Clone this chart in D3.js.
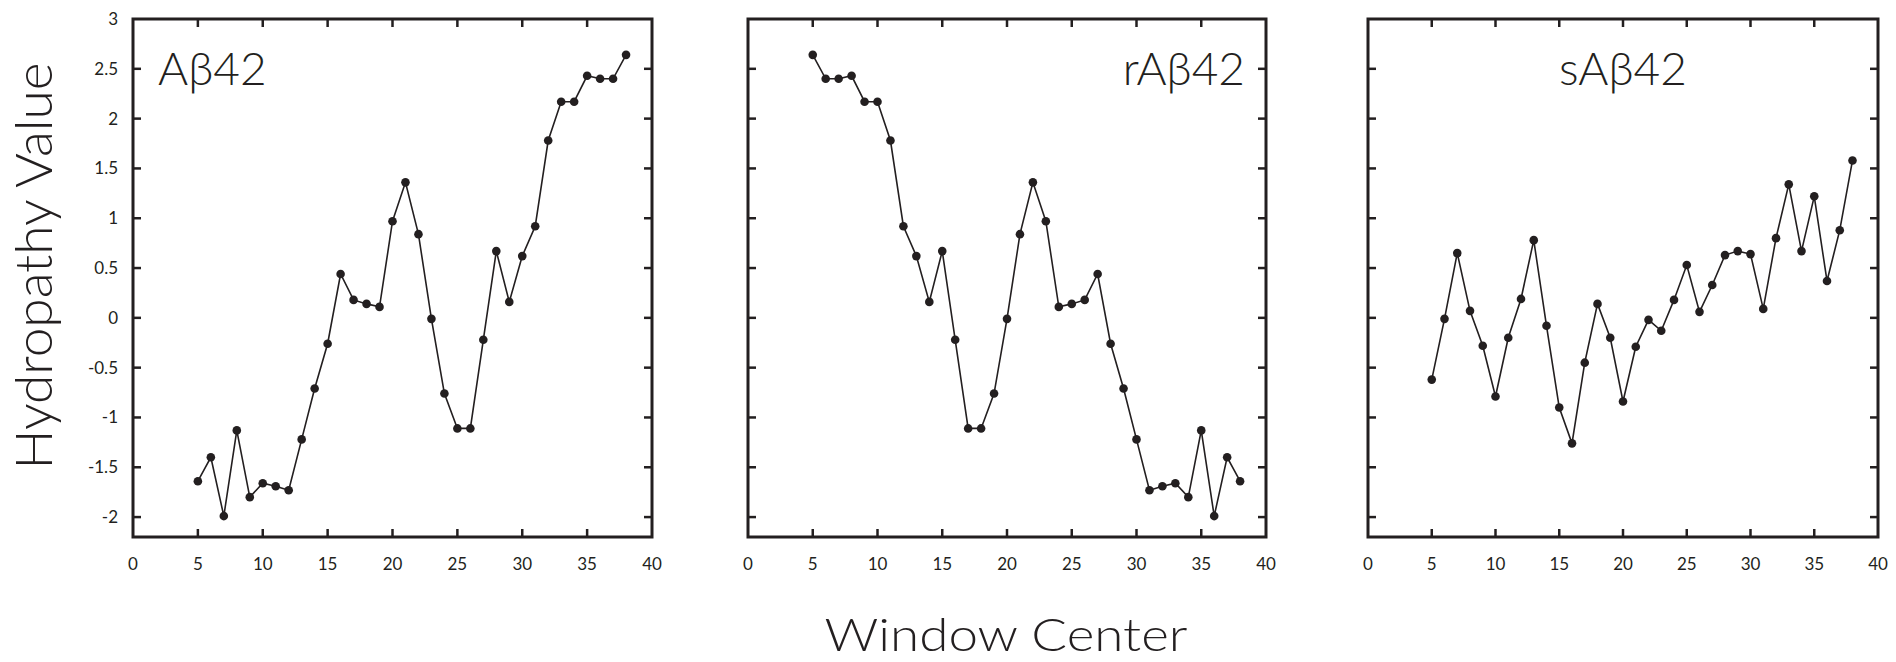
<!DOCTYPE html>
<html>
<head>
<meta charset="utf-8">
<script src="https://cdn.jsdelivr.net/npm/d3@7"></script>
<style>
  html, body { margin: 0; padding: 0; background: #ffffff; }
  svg { display: block; }
  text { font-family: "Lato", "Open Sans", sans-serif; fill: #231f20; }
  .big { font-weight: 300; }
  .tick { font-weight: 400; }
</style>
</head>
<body>
<svg id="chart" width="1896" height="662"></svg>
<script>
// ---- data ----
const windowCenters = [5,6,7,8,9,10,11,12,13,14,15,16,17,18,19,20,21,22,23,24,25,26,27,28,29,30,31,32,33,34,35,36,37,38];
const abeta42 = [-1.64,-1.40,-1.99,-1.13,-1.80,-1.66,-1.69,-1.73,-1.22,-0.71,-0.26,0.44,0.18,0.14,0.11,0.97,1.36,0.84,-0.01,-0.76,-1.11,-1.11,-0.22,0.67,0.16,0.62,0.92,1.78,2.17,2.17,2.43,2.40,2.40,2.64];
const rabeta42 = [2.64,2.40,2.40,2.43,2.17,2.17,1.78,0.92,0.62,0.16,0.67,-0.22,-1.11,-1.11,-0.76,-0.01,0.84,1.36,0.97,0.11,0.14,0.18,0.44,-0.26,-0.71,-1.22,-1.73,-1.69,-1.66,-1.80,-1.13,-1.99,-1.40,-1.64];
const sabeta42 = [-0.62,-0.01,0.65,0.07,-0.28,-0.79,-0.20,0.19,0.78,-0.08,-0.90,-1.26,-0.45,0.14,-0.20,-0.84,-0.29,-0.02,-0.13,0.18,0.53,0.06,0.33,0.63,0.67,0.64,0.09,0.80,1.34,0.67,1.22,0.37,0.88,1.58];
const panelNames = ["A\u03b242", "rA\u03b242", "sA\u03b242"];
const xTicks = [0,5,10,15,20,25,30,35,40];
const yTicks = [-2,-1.5,-1,-0.5,0,0.5,1,1.5,2,2.5,3];
const yTickLabels = ["-2","-1.5","-1","-0.5","0","0.5","1","1.5","2","2.5","3"];
const xTitle = "Window Center";
const yTitle = "Hydropathy Value";

// ---- layout ----
const ink = "#231f20";
const svg = d3.select("#chart");
const plotTop = 19, plotBottom = 537;
const panels = [
  { name: panelNames[0], values: abeta42, x0: 133, x1: 652, anchor: "start", tx: 158 },
  { name: panelNames[1], values: rabeta42, x0: 748, x1: 1266, anchor: "end", tx: 1245 },
  { name: panelNames[2], values: sabeta42, x0: 1368, x1: 1878, anchor: "middle", tx: 1623 }
];
const y = d3.scaleLinear().domain([-2.2, 3]).range([plotBottom, plotTop]);

panels.forEach((p, i) => {
  const x = d3.scaleLinear().domain([0, 40]).range([p.x0, p.x1]);
  const g = svg.append("g");
  const tickLen = 8;

  const innerX = xTicks.filter(t => t > 0 && t < 40);
  g.selectAll(".tb").data(innerX).join("line")
    .attr("x1", d => x(d)).attr("x2", d => x(d))
    .attr("y1", plotBottom).attr("y2", plotBottom - tickLen)
    .attr("stroke", ink).attr("stroke-width", 2.5);
  g.selectAll(".tt").data(innerX).join("line")
    .attr("x1", d => x(d)).attr("x2", d => x(d))
    .attr("y1", plotTop).attr("y2", plotTop + tickLen)
    .attr("stroke", ink).attr("stroke-width", 2.5);
  const innerY = yTicks.filter(t => t < 3);
  g.selectAll(".tl").data(innerY).join("line")
    .attr("x1", p.x0).attr("x2", p.x0 + tickLen)
    .attr("y1", d => y(d)).attr("y2", d => y(d))
    .attr("stroke", ink).attr("stroke-width", 2.5);
  g.selectAll(".tr").data(innerY).join("line")
    .attr("x1", p.x1).attr("x2", p.x1 - tickLen)
    .attr("y1", d => y(d)).attr("y2", d => y(d))
    .attr("stroke", ink).attr("stroke-width", 2.5);

  g.append("rect")
    .attr("x", p.x0).attr("y", plotTop)
    .attr("width", p.x1 - p.x0).attr("height", plotBottom - plotTop)
    .attr("fill", "none").attr("stroke", ink).attr("stroke-width", 3);

  g.selectAll(".xl").data(xTicks).join("text")
    .attr("class", "tick")
    .attr("x", d => x(d)).attr("y", 570)
    .attr("text-anchor", "middle")
    .attr("font-size", 17)
    .text(d => d);

  if (i === 0) {
    g.selectAll(".yl").data(yTicks).join("text")
      .attr("class", "tick")
      .attr("x", 118).attr("y", d => y(d) + 6)
      .attr("text-anchor", "end")
      .attr("font-size", 17)
      .text((d, k) => yTickLabels[k]);
  }

  const pts = windowCenters.map((c, k) => [c, p.values[k]]);
  g.append("path")
    .datum(pts)
    .attr("fill", "none").attr("stroke", ink).attr("stroke-width", 1.6)
    .attr("d", d3.line().x(d => x(d[0])).y(d => y(d[1])));
  g.selectAll(".pt").data(pts).join("circle")
    .attr("cx", d => x(d[0])).attr("cy", d => y(d[1]))
    .attr("r", 4.3).attr("fill", ink);

  g.append("text")
    .attr("class", "big")
    .attr("x", p.tx).attr("y", 85)
    .attr("text-anchor", p.anchor)
    .attr("font-size", 46)
    .text(p.name);
});

svg.append("text")
  .attr("class", "big")
  .attr("x", 1006).attr("y", 651)
  .attr("text-anchor", "middle")
  .attr("font-size", 45)
  .attr("textLength", 363).attr("lengthAdjust", "spacingAndGlyphs")
  .text(xTitle);

svg.append("text")
  .attr("class", "big")
  .attr("transform", "translate(52,266) rotate(-90)")
  .attr("text-anchor", "middle")
  .attr("font-size", 51)
  .attr("textLength", 407).attr("lengthAdjust", "spacingAndGlyphs")
  .text(yTitle);
</script>
</body>
</html>
